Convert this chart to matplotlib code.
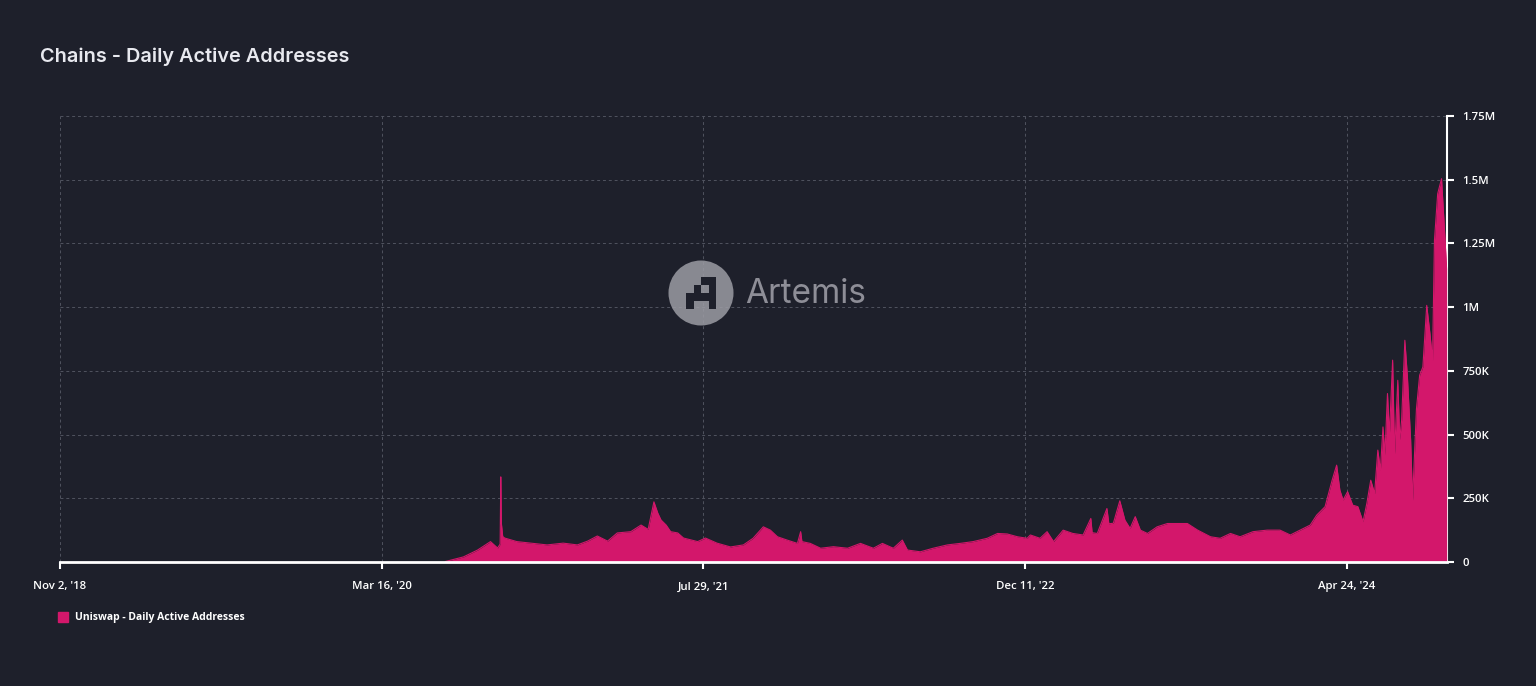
import matplotlib
matplotlib.use('Agg')
import matplotlib.pyplot as plt
from matplotlib.patches import Circle, Rectangle
import pandas as pd

BG = '#1e202b'
PINK = '#d3176b'
GRID = '#50535f'

# Uniswap daily active addresses (thousands)
dates = [
    '2020-06-23', '2020-07-21', '2020-08-12', '2020-09-01', '2020-09-12', '2020-09-16',
    '2020-09-17', '2020-09-18', '2020-09-20', '2020-09-23', '2020-10-12', '2020-11-02',
    '2020-11-28', '2020-12-23', '2021-01-14', '2021-01-30', '2021-02-14', '2021-03-02',
    '2021-03-17', '2021-04-07', '2021-04-23', '2021-05-04', '2021-05-13', '2021-05-19',
    '2021-05-24', '2021-06-01', '2021-06-08', '2021-06-19', '2021-06-28', '2021-07-20',
    '2021-08-01', '2021-08-19', '2021-09-09', '2021-09-29', '2021-10-14', '2021-10-30',
    '2021-11-10', '2021-11-21', '2021-12-06', '2021-12-22', '2021-12-27', '2021-12-29',
    '2022-01-11', '2022-01-27', '2022-02-16', '2022-03-10', '2022-03-30', '2022-04-19',
    '2022-05-03', '2022-05-20', '2022-06-03', '2022-06-11', '2022-07-01', '2022-07-21',
    '2022-08-12', '2022-09-01', '2022-09-21', '2022-10-13', '2022-10-29', '2022-11-13',
    '2022-11-29', '2022-12-14', '2022-12-19', '2023-01-03', '2023-01-14', '2023-01-24',
    '2023-02-08', '2023-02-23', '2023-03-11', '2023-03-23', '2023-03-25', '2023-04-02',
    '2023-04-17', '2023-04-20', '2023-04-27', '2023-05-07', '2023-05-15', '2023-05-23',
    '2023-05-31', '2023-06-08', '2023-06-19', '2023-07-04', '2023-07-20', '2023-08-04',
    '2023-08-20', '2023-09-05', '2023-09-25', '2023-10-10', '2023-10-26', '2023-11-10',
    '2023-11-30', '2023-12-22', '2024-01-11', '2024-01-27', '2024-02-11', '2024-02-27',
    '2024-03-08', '2024-03-21', '2024-04-01', '2024-04-08', '2024-04-13', '2024-04-18',
    '2024-04-25', '2024-05-03', '2024-05-11', '2024-05-19', '2024-05-25', '2024-05-31',
    '2024-06-06', '2024-06-11', '2024-06-15', '2024-06-19', '2024-06-22', '2024-06-26',
    '2024-06-29', '2024-07-04', '2024-07-07', '2024-07-12', '2024-07-15', '2024-07-18',
    '2024-07-23', '2024-07-27', '2024-08-01', '2024-08-04', '2024-08-10', '2024-08-15',
    '2024-08-20', '2024-08-26', '2024-08-31', '2024-09-04', '2024-09-07', '2024-09-12',
    '2024-09-18', '2024-09-20', '2024-09-23', '2024-09-26',
]
dau_k = [
    2, 20, 47, 80, 55, 70,
    334, 150, 100, 94, 80, 74,
    67, 74, 67, 82, 102, 82,
    114, 119, 145, 128, 236, 192,
    165, 145, 119, 114, 94, 80,
    94, 74, 59, 67, 93, 138,
    125, 99, 86, 73, 119, 80,
    73, 54, 60, 54, 73, 54,
    73, 54, 86, 47, 40, 54,
    67, 73, 80, 93, 112, 110,
    99, 93, 106, 93, 119, 80,
    125, 112, 106, 171, 115, 112,
    210, 150, 152, 240, 164, 132,
    178, 125, 112, 138, 151, 151,
    151, 125, 99, 93, 112, 99,
    119, 125, 125, 106, 125, 145,
    184, 217, 321, 380, 282, 243,
    276, 223, 217, 158, 231, 321,
    269, 439, 360, 530, 420, 661,
    500, 792, 425, 713, 480, 557,
    870, 726, 478, 243, 600, 733,
    765, 1007, 896, 792, 1262, 1445,
    1504, 1417, 1288, 1150,
]

x_ticks = ['2018-11-02', '2020-03-16', '2021-07-29', '2022-12-11', '2024-04-24']
x_labels = ["Nov 2, '18", "Mar 16, '20", "Jul 29, '21", "Dec 11, '22", "Apr 24, '24"]
y_ticks = [0, 250e3, 500e3, 750e3, 1e6, 1.25e6, 1.5e6, 1.75e6]
y_labels = ['0', '250K', '500K', '750K', '1M', '1.25M', '1.5M', '1.75M']

W, H = 1536, 686
fig = plt.figure(figsize=(W / 100, H / 100), dpi=100, facecolor=BG)
ax = fig.add_axes([60 / W, 1 - 562 / H, (1447 - 60) / W, (562 - 116) / H])
ax.set_facecolor(BG)

x = pd.to_datetime(dates)
y = [v * 1000 for v in dau_k]
ax.fill_between(x, y, 0, color=PINK, linewidth=0, zorder=3)
ax.plot(x, y, color=PINK, linewidth=0.8, zorder=3)

ax.set_xlim(pd.Timestamp('2018-11-02'), pd.Timestamp('2024-09-26 12:00'))
ax.set_ylim(0, 1.75e6)

ax.set_xticks(pd.to_datetime(x_ticks))
ax.set_xticklabels(x_labels)
ax.set_yticks(y_ticks)
ax.set_yticklabels(y_labels)
ax.yaxis.tick_right()

for lab in ax.get_xticklabels() + ax.get_yticklabels():
    lab.set_fontfamily('Open Sans')
    lab.set_fontsize(8.2)
    lab.set_fontweight('semibold')
    lab.set_color('white')
ax.tick_params(axis='x', colors='white', length=5, width=1.5, pad=9)
ax.tick_params(axis='y', colors='white', length=5, width=1.5, pad=6)

ax.grid(True, color=GRID, linestyle=(0, (3, 3)), linewidth=0.7, zorder=0)
for side in ['top', 'left']:
    ax.spines[side].set_visible(False)
ax.spines['bottom'].set_color('white')
ax.spines['bottom'].set_linewidth(2)
ax.spines['bottom'].set_zorder(5)
ax.spines['right'].set_color('white')
ax.spines['right'].set_linewidth(1.5)

# overlay in pixel coords for title, legend, watermark
ov = fig.add_axes([0, 0, 1, 1], zorder=10)
ov.set_xlim(0, W); ov.set_ylim(H, 0)
ov.axis('off')
ov.patch.set_alpha(0)

ov.text(40, 57, 'Chains - Daily Active Addresses', fontsize=14.3, family='Inter',
        weight='semibold', color='#e8e9ef', va='center', ha='left')

ov.add_patch(Rectangle((58, 612), 10, 10, color=PINK))
ov.text(75, 617.5, 'Uniswap - Daily Active Addresses', fontsize=7.5, family='Open Sans',
        weight='bold', color='white', va='center', ha='left')

# Artemis watermark
ov.add_patch(Circle((701, 293), 32.5, color='#9c9ca4', alpha=0.85, lw=0))
cells = [(2, 0), (3, 0), (1, 1), (3, 1), (0, 2), (1, 2), (2, 2), (3, 2), (0, 3), (3, 3)]
for cx, cy in cells:
    ov.add_patch(Rectangle((686 + cx * 7.5, 277 + cy * 8), 7.5, 8, color=BG, lw=0))
ov.text(745, 294, 'Artemis', fontsize=24, family='Inter', color='#8e8e97',
        va='center', ha='left')

fig.savefig('out.png', dpi=100, facecolor=BG)
